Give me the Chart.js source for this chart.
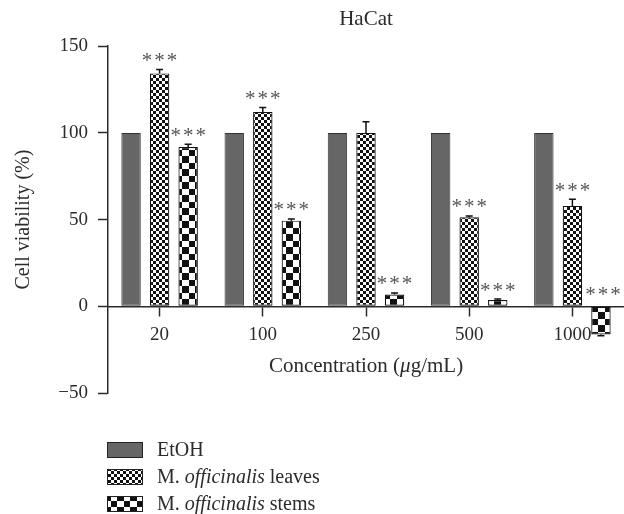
<!DOCTYPE html>
<html>
<head>
<meta charset="utf-8">
<script src="https://cdn.jsdelivr.net/npm/chart.js@4"></script>
<style>
  html, body { margin: 0; padding: 0; background: #ffffff; }
  #wrap { width: 624px; height: 514px; }
</style>
</head>
<body>
<div id="wrap"><canvas id="c" width="624" height="514"></canvas></div>
<script>
// ---- data ----
const categories = ['20', '100', '250', '500', '1000'];
const etohValues = [100, 100, 100, 100, 100];
const leavesValues = [134.3, 112.1, 100.0, 51.3, 57.9];
const leavesErrors = [2.3, 2.5, 6.4, 0.8, 3.9];
const stemsValues = [91.9, 49.4, 6.8, 3.6, -16.2];
const stemsErrors = [1.5, 1.0, 0.9, 0.6, 0.8];
const leavesSig = ['***', '***', '', '***', '***'];
const stemsSig = ['***', '***', '***', '***', '***'];
const yTicks = [-50, 0, 50, 100, 150];
const seriesLabels = ['EtOH', 'M. officinalis leaves', 'M. officinalis stems'];
const italicWords = ['officinalis', 'μ'];
const xTitleParts = ['Concentration (', 'μ', 'g/mL)'];

const FONT = "'Liberation Serif', 'Times New Roman', serif";
const INK = '#2b2b2b';

function checker(tile, sq) {
  const cv = document.createElement('canvas');
  cv.width = tile; cv.height = tile;
  const g = cv.getContext('2d');
  g.fillStyle = '#ffffff';
  g.fillRect(0, 0, tile, tile);
  g.fillStyle = '#111111';
  g.fillRect(0, 0, sq, sq);
  g.fillRect(sq, sq, tile - sq, tile - sq);
  return g.createPattern(cv, 'repeat');
}
const ctx0 = document.getElementById('c').getContext('2d');
const finePattern = checker(6, 3);
const coarsePattern = checker(13, 7);

function drawMixed(ctx, parts, x, y, size, align) {
  const widths = parts.map(p => {
    ctx.font = (italicWords.includes(p) ? 'italic ' : '') + size + 'px ' + FONT;
    return ctx.measureText(p).width;
  });
  const total = widths.reduce((a, b) => a + b, 0);
  let cx = align === 'center' ? x - total / 2 : x;
  ctx.textAlign = 'left';
  parts.forEach((p, i) => {
    ctx.font = (italicWords.includes(p) ? 'italic ' : '') + size + 'px ' + FONT;
    ctx.fillText(p, cx, y);
    cx += widths[i];
  });
}

const errorBarPlugin = {
  id: 'errorBars',
  afterDatasetsDraw(chart) {
    const ctx = chart.ctx;
    const y = chart.scales.y;
    chart.data.datasets.forEach((ds, di) => {
      if (!ds.errors) return;
      const meta = chart.getDatasetMeta(di);
      meta.data.forEach((bar, i) => {
        const v = ds.data[i];
        const e = ds.errors[i];
        const dir = v >= 0 ? 1 : -1;
        const y0 = y.getPixelForValue(v);
        const y1 = y.getPixelForValue(v + dir * e);
        ctx.save();
        ctx.strokeStyle = '#111';
        ctx.lineWidth = 1.5;
        ctx.beginPath();
        ctx.moveTo(bar.x, y0);
        ctx.lineTo(bar.x, y1);
        ctx.moveTo(bar.x - 3.5, y1);
        ctx.lineTo(bar.x + 3.5, y1);
        ctx.stroke();
        ctx.restore();
      });
    });
  }
};

const starsPlugin = {
  id: 'stars',
  afterDatasetsDraw(chart) {
    const ctx = chart.ctx;
    const y = chart.scales.y;
    chart.data.datasets.forEach((ds, di) => {
      if (!ds.sig) return;
      const meta = chart.getDatasetMeta(di);
      meta.data.forEach((bar, i) => {
        const s = ds.sig[i];
        if (!s) return;
        const v = ds.data[i];
        const e = ds.errors ? ds.errors[i] : 0;
        let cy, cx = bar.x;
        if (v >= 0) {
          cy = y.getPixelForValue(v + e) - 13;
        } else {
          cy = y.getPixelForValue(0) - 16;
          cx = bar.x + 2;
        }
        ctx.save();
        ctx.fillStyle = '#555555';
        ctx.font = '21px ' + FONT;
        ctx.textAlign = 'center';
        ctx.textBaseline = 'alphabetic';
        const n = s.length;
        for (let k = 0; k < n; k++) {
          ctx.fillText('*', cx + (k - (n - 1) / 2) * 12.5, cy + 10.5);
        }
        ctx.restore();
      });
    });
  }
};

const xTitlePlugin = {
  id: 'xTitle',
  afterDraw(chart) {
    const ctx = chart.ctx;
    const area = chart.chartArea;
    const y0 = chart.scales.y.getPixelForValue(0);
    ctx.save();
    ctx.fillStyle = INK;
    ctx.textBaseline = 'middle';
    drawMixed(ctx, xTitleParts, (area.left + area.right) / 2, y0 + 60, 21, 'center');
    ctx.restore();
  }
};

const legendPlugin = {
  id: 'bottomLegend',
  afterDraw(chart) {
    const ctx = chart.ctx;
    const x0 = 107, bw = 36, bh = 16, top0 = 442, step = 27, tx = 157;
    chart.data.datasets.forEach((ds, di) => {
      const yt = top0 + di * step;
      ctx.save();
      ctx.fillStyle = ds.backgroundColor;
      ctx.fillRect(x0, yt, bw, bh);
      ctx.strokeStyle = '#222';
      ctx.lineWidth = 1;
      ctx.strokeRect(x0 + 0.5, yt + 0.5, bw - 1, bh - 1);
      ctx.fillStyle = INK;
      ctx.textBaseline = 'middle';
      drawMixed(ctx, ds.label.split(/(\s+)/), tx, yt + bh / 2 + 1, 20, 'left');
      ctx.restore();
    });
  }
};

new Chart(ctx0, {
  type: 'bar',
  data: {
    labels: categories,
    datasets: [
      {
        label: seriesLabels[0],
        data: etohValues,
        backgroundColor: '#666666',
        borderColor: '#333333',
        borderWidth: 1,
        borderSkipped: false
      },
      {
        label: seriesLabels[1],
        data: leavesValues,
        errors: leavesErrors,
        sig: leavesSig,
        backgroundColor: finePattern,
        borderColor: '#111111',
        borderWidth: 1.2,
        borderSkipped: false
      },
      {
        label: seriesLabels[2],
        data: stemsValues,
        errors: stemsErrors,
        sig: stemsSig,
        backgroundColor: coarsePattern,
        borderColor: '#111111',
        borderWidth: 1.2,
        borderSkipped: false
      }
    ]
  },
  options: {
    responsive: false,
    animation: false,
    devicePixelRatio: 1,
    categoryPercentage: 0.83,
    barPercentage: 0.68,
    layout: { padding: { top: 0, left: 0, right: 0, bottom: 121 } },
    plugins: {
      legend: { display: false },
      tooltip: { enabled: false },
      title: {
        display: true,
        fullSize: false,
        text: 'HaCat',
        color: INK,
        font: { family: FONT, size: 21, weight: 'normal' },
        padding: { top: 7, bottom: 14 }
      }
    },
    scales: {
      x: {
        position: { y: 0 },
        offset: true,
        grid: {
          display: true,
          offset: false,
          drawOnChartArea: false,
          drawTicks: true,
          tickLength: 9,
          tickColor: INK,
          tickWidth: 1.5
        },
        border: { display: true, color: INK, width: 1.5 },
        ticks: {
          color: INK,
          font: { family: FONT, size: 19 },
          padding: 8,
          maxRotation: 0
        },
        title: { display: false }
      },
      y: {
        min: -50,
        max: 150,
        afterFit(scale) { scale.width = 108; },
        afterBuildTicks(scale) { scale.ticks = yTicks.map(v => ({ value: v })); },
        grid: {
          display: true,
          drawOnChartArea: false,
          drawTicks: true,
          tickLength: 10,
          tickColor: INK,
          tickWidth: 1.5
        },
        border: { display: true, color: INK, width: 1.5 },
        ticks: {
          color: INK,
          font: { family: FONT, size: 19 },
          padding: 10,
          callback: v => String(v).replace('-', '\u2212')
        },
        title: {
          display: true,
          text: 'Cell viability (%)',
          color: INK,
          font: { family: FONT, size: 20 },
          padding: { top: 12, bottom: 0 }
        }
      }
    }
  },
  plugins: [errorBarPlugin, starsPlugin, xTitlePlugin, legendPlugin]
});
</script>
</body>
</html>
